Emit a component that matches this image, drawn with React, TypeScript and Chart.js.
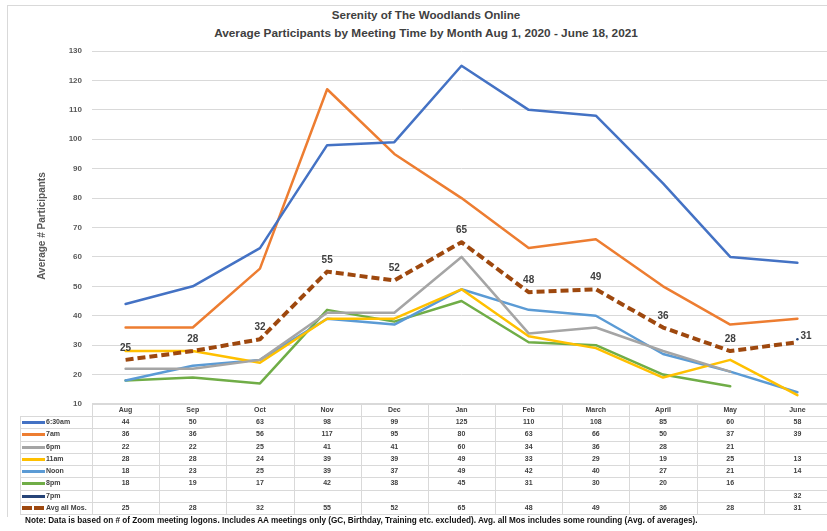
import React, { useEffect, useRef } from "react";
import { Chart, registerables } from "chart.js";
Chart.register(...registerables);

const months = ["Aug", "Sep", "Oct", "Nov", "Dec", "Jan", "Feb", "March", "April", "May", "June"];
const s630am = [44, 50, 63, 98, 99, 125, 110, 108, 85, 60, 58];
const s7am = [36, 36, 56, 117, 95, 80, 63, 66, 50, 37, 39];
const s6pm = [22, 22, 25, 41, 41, 60, 34, 36, 28, 21, null];
const s11am = [28, 28, 24, 39, 39, 49, 33, 29, 19, 25, 13];
const sNoon = [18, 23, 25, 39, 37, 49, 42, 40, 27, 21, 14];
const s8pm = [18, 19, 17, 42, 38, 45, 31, 30, 20, 16, null];
const s7pm = [null, null, null, null, null, null, null, null, null, null, 32];
const avgAll = [25, 28, 32, 55, 52, 65, 48, 49, 36, 28, 31];

const seriesNames = ["6:30am", "7am", "6pm", "11am", "Noon", "8pm", "7pm", "Avg all Mos."];
const seriesData = [s630am, s7am, s6pm, s11am, sNoon, s8pm, s7pm, avgAll];
const seriesColors = ["#4472C4", "#ED7D31", "#A5A5A5", "#FFC000", "#5B9BD5", "#70AD47", "#264478", "#9E480E"];

const yMin = 10;
const yMax = 130;
const yStep = 10;

const titleLine1 = "Serenity of The Woodlands Online";
const titleLine2 = "Average Participants by Meeting Time by Month Aug 1, 2020 - June 18, 2021";
const yTitle = "Average # Participants";
const noteText =
  "Note: Data is based on # of Zoom meeting logons. Includes AA meetings only (GC, Birthday, Training etc. excluded). Avg. all Mos includes some rounding (Avg. of averages).";

const FONT = '"Liberation Sans", Arial, sans-serif';

// layout constants
const PLOT_LEFT = 92;
const PLOT_RIGHT = 831;
const PLOT_TOP = 51;
const PLOT_BOTTOM = 404;
const CANVAS_W = 840;
const CANVAS_H = 430;
const LEG_LEFT = 20;
const COL_W = (PLOT_RIGHT - PLOT_LEFT) / months.length;
const HEADER_TOP = 403;
const HEADER_BOTTOM = 416;
const ROW_H = 12.25;

export default function App() {
  const ref = useRef<HTMLCanvasElement>(null);

  useEffect(() => {
    if (!ref.current) return;
    const lastIdx = months.length - 1;
    const extras = {
      id: "extras",
      afterDatasetsDraw(chart: any) {
        const ctx = chart.ctx;
        const meta = chart.getDatasetMeta(seriesData.length - 1);
        ctx.save();
        ctx.font = `bold 10px ${FONT}`;
        ctx.fillStyle = "#404040";
        meta.data.forEach((pt: any, i: number) => {
          const v = avgAll[i];
          if (v == null) return;
          if (i === lastIdx) {
            ctx.textAlign = "left";
            ctx.textBaseline = "middle";
            ctx.fillText(String(v), pt.x + 3, pt.y - 6);
          } else {
            ctx.textAlign = "center";
            ctx.textBaseline = "alphabetic";
            ctx.fillText(String(v), pt.x, pt.y - 9);
          }
        });
        ctx.restore();
        ctx.save();
        ctx.translate(42, 226);
        ctx.rotate(-Math.PI / 2);
        ctx.font = `bold 10px ${FONT}`;
        ctx.fillStyle = "#595959";
        ctx.textAlign = "center";
        ctx.textBaseline = "middle";
        ctx.fillText(yTitle, 0, 0);
        ctx.restore();
      },
    };

    const datasets = seriesData.map((d, i) => {
      const isAvg = i === seriesData.length - 1;
      return {
        label: seriesNames[i],
        data: d,
        borderColor: seriesColors[i],
        backgroundColor: seriesColors[i],
        borderWidth: isAvg ? 4 : 2.5,
        borderDash: isAvg ? [8, 4] : [],
        borderCapStyle: isAvg ? "butt" : "round",
        borderJoinStyle: "round",
        pointRadius: 0,
        tension: 0,
        fill: false,
        spanGaps: false,
        order: isAvg ? 0 : i + 1,
      };
    });

    const chart = new Chart(ref.current, {
      type: "line",
      data: { labels: months, datasets: datasets as any },
      options: {
        responsive: false,
        maintainAspectRatio: false,
        animation: false,
        events: [],
        layout: {
          padding: {
            left: 0,
            top: PLOT_TOP,
            right: CANVAS_W - PLOT_RIGHT,
            bottom: CANVAS_H - PLOT_BOTTOM,
          },
        },
        plugins: {
          legend: { display: false },
          title: { display: false },
          tooltip: { enabled: false },
        },
        scales: {
          x: {
            display: false,
            offset: true,
          },
          y: {
            min: yMin,
            max: yMax,
            afterFit: (scale: any) => {
              scale.width = PLOT_LEFT;
            },
            border: { display: false },
            grid: { color: "#d9d9d9", lineWidth: 1, drawTicks: false },
            ticks: {
              stepSize: yStep,
              padding: 10,
              color: "#595959",
              font: { family: FONT, size: 8, weight: "bold" },
            },
          },
        },
      },
      plugins: [extras],
    });
    return () => chart.destroy();
  }, []);

  const lineColor = "#d9d9d9";
  const rowTops = seriesNames.map((_, i) => HEADER_BOTTOM + i * ROW_H);
  const tableBottom = HEADER_BOTTOM + seriesNames.length * ROW_H;

  const hLines: React.ReactNode[] = [];
  hLines.push(
    <div key="h-top" style={{ position: "absolute", left: PLOT_LEFT, top: HEADER_TOP, width: PLOT_RIGHT - PLOT_LEFT, height: 1, background: lineColor }} />
  );
  [HEADER_BOTTOM, ...rowTops.slice(1), tableBottom].forEach((y, i) => {
    hLines.push(
      <div key={"h" + i} style={{ position: "absolute", left: LEG_LEFT, top: Math.round(y), width: PLOT_RIGHT - LEG_LEFT, height: 1, background: lineColor }} />
    );
  });
  const vLines: React.ReactNode[] = [];
  vLines.push(
    <div key="v-leg" style={{ position: "absolute", left: LEG_LEFT, top: HEADER_BOTTOM, width: 1, height: tableBottom - HEADER_BOTTOM + 1, background: lineColor }} />
  );
  for (let i = 0; i <= months.length; i++) {
    vLines.push(
      <div key={"v" + i} style={{ position: "absolute", left: Math.round(PLOT_LEFT + i * COL_W), top: HEADER_TOP, width: 1, height: tableBottom - HEADER_TOP + 1, background: lineColor }} />
    );
  }

  const cellText: React.CSSProperties = {
    position: "absolute",
    fontFamily: FONT,
    fontWeight: "bold",
    fontSize: 7,
    color: "#404040",
    textAlign: "center",
    whiteSpace: "nowrap",
  };

  return (
    <div style={{ position: "absolute", left: 0, top: 0, width: 827, height: 531, overflow: "hidden", background: "#fff" }}>
      {/* frame */}
      <div style={{ position: "absolute", left: 7, top: 5, width: 900, height: 511, borderLeft: "1px solid #d9d9d9", borderTop: "1px solid #d9d9d9" }} />
      {/* titles */}
      <div style={{ position: "absolute", left: 0, top: 8, width: 852, textAlign: "center", fontFamily: FONT, fontWeight: "bold", fontSize: 11.6, lineHeight: "14px", color: "#404040" }}>
        {titleLine1}
      </div>
      <div style={{ position: "absolute", left: 0, top: 26, width: 852, textAlign: "center", fontFamily: FONT, fontWeight: "bold", fontSize: 11.8, lineHeight: "14px", color: "#404040" }}>
        {titleLine2}
      </div>
      <canvas ref={ref} width={CANVAS_W} height={CANVAS_H} style={{ position: "absolute", left: 0, top: 0, width: CANVAS_W, height: CANVAS_H }} />
      {/* table */}
      <div style={{ position: "absolute", left: LEG_LEFT, top: HEADER_BOTTOM, width: PLOT_RIGHT - LEG_LEFT, height: tableBottom - HEADER_BOTTOM, background: "#fff" }} />
      {hLines}
      {vLines}
      {months.map((m, i) => (
        <div key={"m" + i} style={{ ...cellText, left: PLOT_LEFT + i * COL_W, width: COL_W, top: HEADER_TOP, height: HEADER_BOTTOM - HEADER_TOP, lineHeight: `${HEADER_BOTTOM - HEADER_TOP}px` }}>
          {m}
        </div>
      ))}
      {seriesNames.map((name, r) => {
        const top = rowTops[r];
        const isAvg = r === seriesNames.length - 1;
        return (
          <React.Fragment key={"r" + r}>
            {isAvg ? (
              <>
                <div style={{ position: "absolute", left: 22, top: top + 4.5, width: 10, height: 4, background: seriesColors[r] }} />
                <div style={{ position: "absolute", left: 34, top: top + 4.5, width: 10, height: 4, background: seriesColors[r] }} />
              </>
            ) : (
              <div style={{ position: "absolute", left: 22, top: top + 5, width: 23, height: 3, background: seriesColors[r] }} />
            )}
            <div style={{ ...cellText, textAlign: "left", left: 46, top, height: ROW_H, lineHeight: `${ROW_H}px` }}>{name}</div>
            {seriesData[r].map((v, c) => (
              <div key={"c" + c} style={{ ...cellText, left: PLOT_LEFT + c * COL_W, width: COL_W, top, height: ROW_H, lineHeight: `${ROW_H}px` }}>
                {v == null ? "" : v}
              </div>
            ))}
          </React.Fragment>
        );
      })}
      {/* note */}
      <div style={{ position: "absolute", left: 25, top: 516, fontFamily: FONT, fontWeight: "bold", fontSize: 8.2, lineHeight: "10px", color: "#111", whiteSpace: "nowrap" }}>
        {noteText}
      </div>
    </div>
  );
}
